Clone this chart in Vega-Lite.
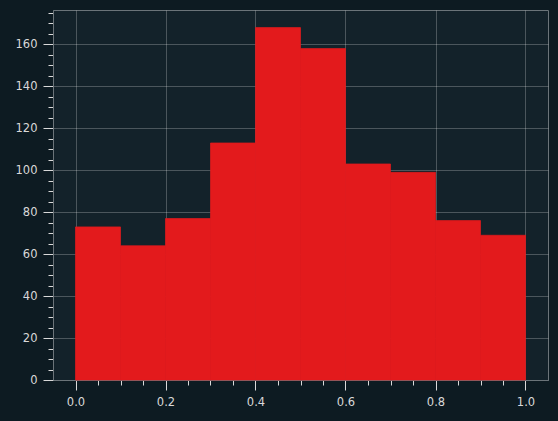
{
  "$schema": "https://vega.github.io/schema/vega-lite/v6.json",
  "description": "Histogram of 1000 values between 0 and 1",
  "width": 495,
  "height": 370,
  "autosize": {"type": "none"},
  "padding": {"left": 53, "top": 10, "right": 10, "bottom": 41},
  "background": "#0d1b22",
  "data": {
    "values": [
      {"bin_start": 0.0, "bin_end": 0.1, "count": 73},
      {"bin_start": 0.1, "bin_end": 0.2, "count": 64},
      {"bin_start": 0.2, "bin_end": 0.3, "count": 77},
      {"bin_start": 0.3, "bin_end": 0.4, "count": 113},
      {"bin_start": 0.4, "bin_end": 0.5, "count": 168},
      {"bin_start": 0.5, "bin_end": 0.6, "count": 158},
      {"bin_start": 0.6, "bin_end": 0.7, "count": 103},
      {"bin_start": 0.7, "bin_end": 0.8, "count": 99},
      {"bin_start": 0.8, "bin_end": 0.9, "count": 76},
      {"bin_start": 0.9, "bin_end": 1.0, "count": 69}
    ]
  },
  "mark": {"type": "bar", "color": "#e31a1c", "opacity": 1, "stroke": "#e31a1c", "strokeWidth": 0.7},
  "encoding": {
    "x": {
      "field": "bin_start",
      "type": "quantitative",
      "title": null,
      "scale": {"domain": [-0.05, 1.05], "nice": false, "zero": false},
      "axis": {
        "values": [0, 0.05, 0.1, 0.15, 0.2, 0.25, 0.3, 0.35, 0.4, 0.45, 0.5, 0.55, 0.6, 0.65, 0.7, 0.75, 0.8, 0.85, 0.9, 0.95, 1.0],
        "labelExpr": "abs(datum.value * 5 - round(datum.value * 5)) < 0.000001 ? format(datum.value, '.1f') : ''",
        "tickSize": {"condition": {"test": "abs(datum.value * 5 - round(datum.value * 5)) < 0.000001", "value": 10}, "value": 5},
        "gridOpacity": {"condition": {"test": "abs(datum.value * 5 - round(datum.value * 5)) < 0.000001", "value": 0.3}, "value": 0},
        "labelPadding": 6
      }
    },
    "x2": {"field": "bin_end"},
    "y": {
      "field": "count",
      "type": "quantitative",
      "title": null,
      "scale": {"domain": [0, 176.4], "nice": false, "padding": 0},
      "axis": {
        "values": [0, 5, 10, 15, 20, 25, 30, 35, 40, 45, 50, 55, 60, 65, 70, 75, 80, 85, 90, 95, 100, 105, 110, 115, 120, 125, 130, 135, 140, 145, 150, 155, 160, 165, 170, 175],
        "labelExpr": "datum.value % 20 == 0 ? format(datum.value, 'd') : ''",
        "tickSize": {"condition": {"test": "datum.value % 20 == 0", "value": 10}, "value": 5},
        "gridOpacity": {"condition": {"test": "datum.value % 20 == 0", "value": 0.3}, "value": 0},
        "labelPadding": 6
      }
    },
    "y2": {"datum": 0}
  },
  "config": {
    "view": {"fill": "#13222a", "stroke": "#6b7479", "strokeWidth": 1},
    "axis": {
      "zindex": 1,
      "grid": true,
      "gridColor": "#ffffff",
      "gridWidth": 0.8,
      "domainColor": "#6b7479",
      "domainWidth": 1,
      "tickColor": "#d9d9d9",
      "tickWidth": 1,
      "labelColor": "#d9d9d9",
      "labelFont": "DejaVu Sans",
      "labelFontSize": 11.5
    }
  }
}
